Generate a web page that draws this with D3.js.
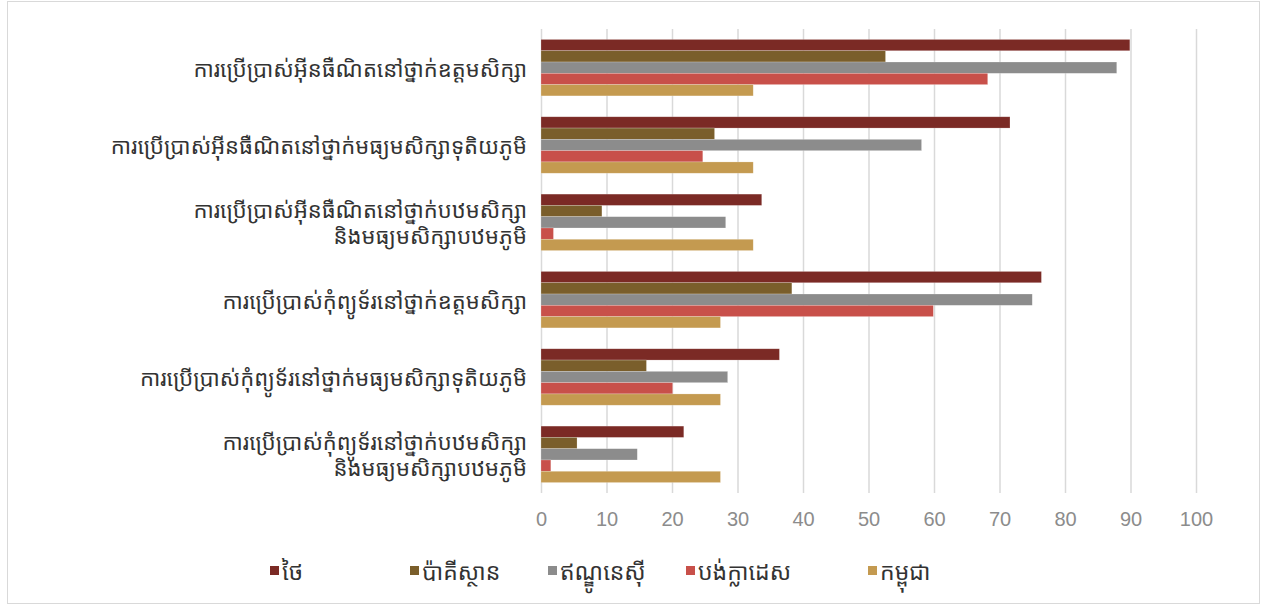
<!DOCTYPE html>
<html><head><meta charset="utf-8">
<script src="https://cdn.jsdelivr.net/npm/d3@7"></script>
<style>
html,body{margin:0;padding:0;background:#fff;}
svg{display:block;}
.lbl{font-family:"Khmer OS","Noto Sans Khmer","Khmer OS System","Noto Sans",sans-serif;}
</style></head>
<body>
<svg id="c" width="1267" height="607"></svg>
<script>
const categories = [
  ["ការប្រើប្រាស់អ៊ីនធឺណិតនៅថ្នាក់ឧត្តមសិក្សា"],
  ["ការប្រើប្រាស់អ៊ីនធឺណិតនៅថ្នាក់មធ្យមសិក្សាទុតិយភូមិ"],
  ["ការប្រើប្រាស់អ៊ីនធឺណិតនៅថ្នាក់បឋមសិក្សា","និងមធ្យមសិក្សាបឋមភូមិ"],
  ["ការប្រើប្រាស់កុំព្យូទ័រនៅថ្នាក់ឧត្តមសិក្សា"],
  ["ការប្រើប្រាស់កុំព្យូទ័រនៅថ្នាក់មធ្យមសិក្សាទុតិយភូមិ"],
  ["ការប្រើប្រាស់កុំព្យូទ័រនៅថ្នាក់បឋមសិក្សា","និងមធ្យមសិក្សាបឋមភូមិ"]
];
const seriesNames = ["ថៃ","ប៉ាគីស្ថាន","ឥណ្ឌូនេស៊ី","បង់ក្លាដេស","កម្ពុជា"];
const thailand   = [89.9, 71.6, 33.7, 76.4, 36.4, 21.8];
const pakistan   = [52.6, 26.5,  9.3, 38.3, 16.1,  5.5];
const indonesia  = [87.9, 58.1, 28.2, 75.0, 28.5, 14.7];
const bangladesh = [68.2, 24.7,  1.9, 59.9, 20.1,  1.5];
const cambodia   = [32.4, 32.4, 32.4, 27.4, 27.4, 27.4];
const tickValues = [0,10,20,30,40,50,60,70,80,90,100];
const colors = ["#7b2a25","#7a5e2b","#8c8c8c","#c8504a","#c49a50"];

const seriesValues = [thailand, pakistan, indonesia, bangladesh, cambodia];
const svg = d3.select("#c");

// frame
svg.append("rect").attr("x",7.5).attr("y",1.5).attr("width",1252).attr("height",602)
  .attr("fill","#fff").attr("stroke","#d9d9d9").attr("stroke-width",1);

const x = d3.scaleLinear().domain([0,100]).range([541,1196]);
const catIdx = d3.range(categories.length);
const y0 = d3.scaleBand().domain(catIdx).range([29,493]).paddingInner(0.27).paddingOuter(0.135);
const y1 = d3.scaleBand().domain(d3.range(seriesNames.length)).range([0,y0.bandwidth()]);

// grid
const gridAxis = d3.axisBottom(x).tickValues(tickValues).tickSize(-(493-29)).tickFormat("");
const g = svg.append("g").attr("transform","translate(0,493)").call(gridAxis);
g.select(".domain").remove();
g.selectAll("line").attr("stroke","#d9d9d9").attr("stroke-width",1.5);

// tick labels
const ax = svg.append("g").attr("transform","translate(0,493)")
  .call(d3.axisBottom(x).tickValues(tickValues).tickSize(0).tickPadding(19));
ax.select(".domain").remove();
ax.selectAll("text").attr("font-family","Liberation Sans, Arial, sans-serif")
  .attr("font-size",20).attr("fill","#8c8c8c");

// bars
const groups = svg.append("g").selectAll("g").data(catIdx).join("g")
  .attr("transform",i=>`translate(0,${y0(i)})`);
groups.selectAll("rect").data(i=>seriesValues.map((s,k)=>({k,v:s[i]}))).join("rect")
  .attr("x",x(0)).attr("y",d=>y1(d.k)).attr("height",y1.bandwidth())
  .attr("width",d=>x(d.v)-x(0)).attr("fill",d=>colors[d.k])
  .attr("stroke","#fff").attr("stroke-opacity",0.35).attr("stroke-width",0.6);

// category labels
const lineH = 26;
const lab = svg.append("g").selectAll("text").data(catIdx).join("text")
  .attr("class","lbl").attr("text-anchor","end").attr("font-size",22).attr("fill","#333")
  .attr("x",527)
  .attr("y",i=>y0(i)+y0.bandwidth()/2 - (categories[i].length-1)*lineH/2)
  .attr("dominant-baseline","central");
lab.selectAll("tspan").data(i=>categories[i]).join("tspan")
  .attr("x",527).attr("dy",(d,j)=>j===0?0:lineH).text(d=>d);

// legend
const legendX = [270, 410, 548, 686, 868];
const leg = svg.append("g").selectAll("g").data(seriesNames).join("g")
  .attr("transform",(d,k)=>`translate(${legendX[k]},566)`);
leg.append("rect").attr("width",9).attr("height",9).attr("fill",(d,k)=>colors[k]);
leg.append("text").attr("class","lbl").attr("x",12).attr("y",5).attr("dominant-baseline","central")
  .attr("font-size",23).attr("fill","#333").text(d=>d);
</script>
</body></html>
